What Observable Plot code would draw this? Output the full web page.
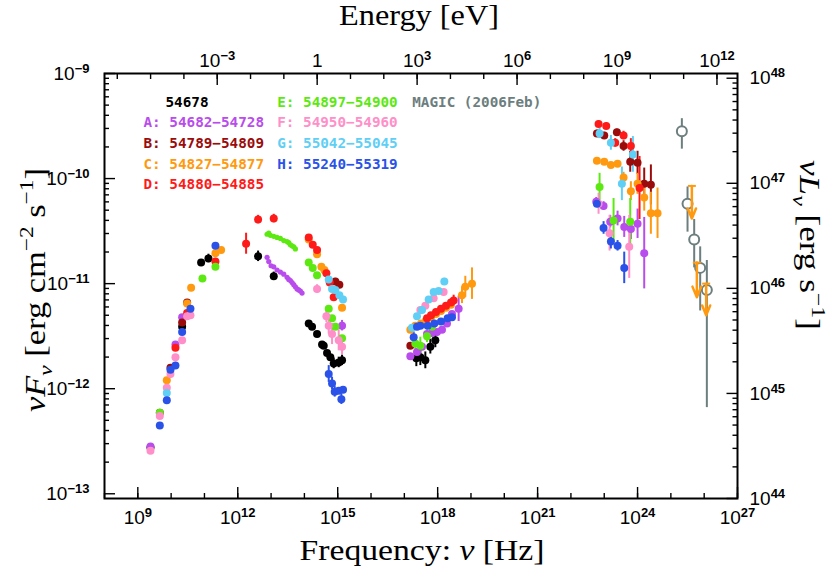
<!DOCTYPE html>
<html><head><meta charset="utf-8">
<script src="https://cdn.jsdelivr.net/npm/d3@7"></script>
<script src="https://cdn.jsdelivr.net/npm/@observablehq/plot@0.6"></script>
<style>body{margin:0;background:#fff}</style>
</head><body><div id="chart"></div>
<script>
// Each point: [log10 nu (Hz), log10 nuFnu (erg cm^-2 s^-1), error (dex, optional)]
const mjd54678 = [[9.38,-12.56],[10.33,-11.41],[10.90,-10.80],[11.12,-10.76,0.04],[12.61,-10.74,0.05],[13.08,-10.93,0.04],
  [14.13,-11.38],[14.23,-11.41],[14.38,-11.48],[14.53,-11.58],[14.58,-11.59],[14.68,-11.66],[14.78,-11.70],[14.88,-11.76,0.05],[15.03,-11.75,0.05],[15.13,-11.73,0.05],
  [17.36,-11.71,0.08],[17.48,-11.70,0.08],[17.63,-11.73,0.08],[17.78,-11.60,0.07],[17.93,-11.54,0.07]];
const periodA = [[9.38,-12.55],[10.13,-11.58],[10.33,-11.32],[15.13,-11.40,0.05],
  [17.18,-11.69],[17.38,-11.65],[17.53,-11.60],[17.68,-11.48],[17.83,-11.47],[17.98,-11.46],[18.13,-11.44],[18.28,-11.38],[18.43,-11.29],[18.63,-11.24,0.12],
  [22.76,-10.22,0.04],[22.98,-10.26,0.04],[23.18,-10.41,0.06],[23.40,-10.38,0.07],[23.60,-10.46,0.1],[23.80,-10.48,0.1],[24.00,-10.43,0.14],[24.20,-10.71,0.34]];
const periodA_IR = [[12.88,-10.75],[12.93,-10.79],[13.00,-10.83],[13.08,-10.84],[13.18,-10.87],[13.28,-10.89],[13.38,-10.91],[13.48,-10.94],[13.53,-10.96],[13.58,-10.97],[13.63,-10.99],[13.68,-11.01],[13.73,-11.03],[13.78,-11.05],[13.83,-11.06],[13.88,-11.07],[13.93,-11.09]];
const periodB = [[9.66,-12.23],[9.98,-11.80],[10.33,-11.37],[10.48,-11.18],[14.93,-10.98,0.03],[15.05,-11.01,0.03],[17.18,-11.59],
  [22.78,-9.57,0.03],[23.00,-9.59,0.03],[23.38,-9.56,0.03],[23.58,-9.69,0.05],[23.78,-9.84,0.1],[24.00,-9.85,0.11],[24.20,-10.05,0.15],[24.40,-10.06,0.19]];
const periodC = [[9.87,-11.92],[10.48,-11.19],[10.60,-11.04],[11.33,-10.71],[11.50,-10.68],
  [14.13,-10.58],[14.38,-10.72],[14.51,-10.84],[14.60,-10.87],[15.13,-11.23],
  [17.18,-11.44],[17.33,-11.40],[17.50,-11.38],[17.65,-11.35],[17.80,-11.32],[17.95,-11.29],[18.10,-11.26],[18.25,-11.23],[18.40,-11.20],[18.73,-11.11,0.08],[18.83,-11.03,0.1],[19.03,-11.00,0.15],
  [22.78,-9.83],[23.00,-9.84],[23.20,-9.87],[23.40,-9.86],[23.58,-9.99,0.05],[23.80,-10.12,0.09],[24.00,-10.05,0.1],[24.20,-10.18,0.13],[24.40,-10.33,0.2],[24.60,-10.33,0.24]];
// upper limits of period C: [log10 nu, log10 limit, log10 arrow tip]
const periodC_UL = [[25.63,-10.07,-10.38],[25.78,-10.80,-11.13],[26.06,-11.00,-11.30]];
const periodD = [[10.13,-11.61],[10.48,-11.28],[11.33,-10.79],[12.25,-10.62,0.1],[12.61,-10.39,0.04],[13.08,-10.38,0.04],
  [14.13,-10.56],[14.25,-10.63],[14.38,-10.68],[14.66,-10.90],[14.76,-10.99],[14.88,-11.13],
  [17.68,-11.33],[17.80,-11.30],[17.95,-11.27],[18.10,-11.24],[18.25,-11.21],[18.40,-11.18],[18.48,-11.16,0.05],
  [22.83,-9.48,0.03],[23.06,-9.50,0.03],[23.33,-9.66,0.04],[23.58,-9.59,0.04],[23.80,-9.69,0.07],[24.06,-10.09,0.3]];
const periodE = [[9.66,-12.23],[10.94,-10.95],[11.33,-10.84],
  [14.13,-10.80],[14.25,-10.85],[14.38,-10.92],[14.73,-11.24],[14.83,-11.33],[14.93,-11.41],[15.13,-11.52],
  [17.33,-11.57,0.08],[17.48,-11.59,0.08],[17.68,-11.50,0.06],[17.83,-11.41],
  [22.86,-10.08,0.13],[23.28,-10.40,0.21],[23.78,-10.41,0.22]];
const periodE_IR = [[12.88,-10.53],[12.93,-10.52],[12.98,-10.54],[13.08,-10.55],[13.18,-10.56],[13.28,-10.57],[13.38,-10.59],[13.48,-10.60],[13.53,-10.61],[13.58,-10.63],[13.63,-10.64],[13.68,-10.65],[13.73,-10.67]];
const periodF = [[9.38,-12.59],[9.66,-12.26],[9.87,-11.99],[9.98,-11.86],[10.13,-11.70],[10.33,-11.54],[10.48,-11.31],[10.58,-11.30],
  [14.38,-11.05,0.04],[14.66,-11.31,0.06],[14.73,-11.40,0.08],[14.83,-11.48,0.1],[15.03,-11.54,0.1],[15.13,-11.60,0.08],
  [17.48,-11.25],[17.63,-11.21],[17.88,-11.14],[18.18,-11.08],
  [22.83,-10.24,0.1],[23.16,-10.52,0.17],[23.75,-10.65,0.3]];
const periodG = [[9.87,-12.04],
  [14.73,-10.96],[14.83,-11.05],[14.93,-11.06],[15.05,-11.11],[15.16,-11.15],
  [17.23,-11.42],[17.38,-11.31],[17.53,-11.25],[17.73,-11.15],[17.88,-11.08],[18.03,-11.07],[18.20,-10.98,0.03],
  [22.86,-9.57,0.05],[23.20,-9.66,0.07],[23.86,-9.77,0.17],[23.53,-10.05,0.16]];
const periodH = [[9.66,-12.35],[9.87,-12.11],[9.98,-11.82],[10.13,-11.78],[10.33,-11.46],[10.58,-11.24],[11.33,-10.64],
  [14.73,-11.86,0.08],[14.83,-11.95,0.06],[14.91,-12.03,0.05],[15.03,-12.02],[15.16,-12.01],[15.11,-12.10,0.05],
  [17.28,-11.51,0.05],[17.38,-11.41],[17.48,-11.40],[17.70,-11.40],[17.90,-11.38],[18.10,-11.36],[18.30,-11.33],[18.43,-11.32],
  [22.78,-10.24,0.03],[22.98,-10.47,0.06],[23.20,-10.60,0.07],[23.40,-10.64,0.05],[23.60,-10.85,0.15]];
// MAGIC (2006 Feb): [log10 nu, log10 nuFnu, log10 upper, log10 lower]
const magic2006 = [[25.33,-9.55,-9.43,-9.72],[25.50,-10.24,-10.08,-10.51],[25.70,-10.58,-10.39,-10.85],[25.88,-10.85,-10.65,-11.26],[26.08,-11.06,-10.78,-12.18]];

const seriesNames = ["54678","A","B","C","D","E","F","G","H"];
const seriesColors = ["#000000","#b94cec","#9a0c0c","#ff9a10","#ff1a1a","#5ce912","#ff8fc8","#5fcff5","#2a52e8"];
const seriesData = [mjd54678, periodA, periodB, periodC, periodD, periodE, periodF, periodG, periodH];
const magicColor = "#6c7e7e";

const legendLabels = ["54678","A: 54682−54728","B: 54789−54809","C: 54827−54877","D: 54880−54885",
  "E: 54897−54900","F: 54950−54960","G: 55042−55045","H: 55240−55319","MAGIC (2006Feb)"];
const legendColors = [...seriesColors, magicColor];

const xTickExp = d3.range(8, 28);             // log10 nu decades
const xLabelExp = [9,12,15,18,21,24,27];
const eTickExp = d3.range(-6, 13);           // log10 E(eV) decades
const eLabelExp = [-3,0,3,6,9,12];
const yTickExp = [-13,-12,-11,-10,-9];
const lTickExp = [44,45,46,47,48];           // log10 nuL decades
const H_EV = 4.135667696e-15;                // eV s
const LOG_4PI_D2 = 57.045;                   // log10(4 pi d_L^2) in cm^2

// ---- build tables
const pts = seriesData.flatMap((arr, i) => arr.map(([lx, ly, e]) => ({
  s: seriesNames[i], nu: 10 ** lx, f: 10 ** ly,
  lo: e ? 10 ** (ly - e) : null, hi: e ? 10 ** (ly + e) : null})));
const irPts = [[periodA_IR, "A"], [periodE_IR, "E"]].flatMap(([arr, s]) => arr.map(([lx, ly]) => ({s, nu: 10 ** lx, f: 10 ** ly})));
const magic = magic2006.map(([lx, ly, hi, lo]) => ({nu: 10 ** lx, f: 10 ** ly, hi: 10 ** hi, lo: 10 ** lo}));
const ul = periodC_UL.map(([lx, top, tip]) => ({nu: 10 ** lx, top: 10 ** top, tip: 10 ** tip}));

const supMap = {"-":"⁻","0":"⁰","1":"¹","2":"²","3":"³","4":"⁴","5":"⁵","6":"⁶","7":"⁷","8":"⁸","9":"⁹"};
const supInv = Object.fromEntries(Object.entries(supMap).map(([k, v]) => [v, k]));
const pow10 = k => k === 0 ? "1" : "10" + String(k).split("").map(c => supMap[c]).join("");
const minorsOf = (lo, hi) => d3.range(lo, hi).flatMap(k => d3.range(2, 10).map(m => m * 10 ** k));

const yLo = 10 ** -13.045;
const xMinor = xTickExp.map(k => 10 ** k);
const xMajor = xLabelExp.map(k => 10 ** k);
const eMinor = eTickExp.map(k => 10 ** k / H_EV);
const eMajor = eLabelExp.map(k => 10 ** k / H_EV);
const yMajor = yTickExp.map(k => 10 ** k);
const yMinor = minorsOf(-14, -9).filter(v => v > yLo && v < 1e-9);
const lMajor = lTickExp.map(k => 10 ** (k - LOG_4PI_D2));
const lMinor = minorsOf(44, 48).map(v => v / 10 ** LOG_4PI_D2).filter(v => v > yLo && v < 1e-9);

const hbar = {draw(ctx, size) { const r = Math.sqrt(size / Math.PI); ctx.moveTo(-r, 0); ctx.lineTo(r, 0); }};
const leftTick = len => ({draw(ctx) { ctx.moveTo(0, 0); ctx.lineTo(-len, 0); }});
const tickStyle = {strokeWidth: 1.4, label: null};
const labelFont = {fontSize: 19, fontFamily: "'Liberation Sans', Arial, sans-serif", label: null};

const legendMarks = legendLabels.map((t, i) => {
  const col = i === 0 ? 0 : i < 5 ? 1 : i < 9 ? 2 : 3;
  const row = i === 0 ? 0 : i < 5 ? i : i < 9 ? i - 5 : 0;
  const dx = [61, 39, 172.7, 307.7][col];
  const dy = 28.7 + row * 20.6;
  return Plot.text([t], {frameAnchor: "top-left", dx, dy, text: d => d, textAnchor: "start", lineAnchor: "middle",
    fill: legendColors[i], fontFamily: "'DejaVu Sans Mono', monospace", fontWeight: "bold", fontSize: 14.3});
});

const fig = Plot.plot({
  width: 830, height: 568,
  marginLeft: 104, marginRight: 93, marginTop: 73, marginBottom: 70,
  x: {type: "log", domain: [1e8, 1e27]},
  y: {type: "log", domain: [yLo, 1e-9]},
  color: {domain: seriesNames, range: seriesColors},
  style: {fontFamily: "'Liberation Sans', Arial, sans-serif", fontSize: "19px", background: "#fff", color: "#000"},
  marks: [
    // error bars and points
    Plot.ruleX(pts.filter(d => d.lo), {x: "nu", y1: "lo", y2: "hi", stroke: "s", strokeWidth: 2}),
    Plot.dot(pts, {x: "nu", y: "f", r: 4, fill: "s"}),
    Plot.dot(irPts, {x: "nu", y: "f", r: 2.6, fill: "s"}),
    // MAGIC
    Plot.ruleX(magic, {x: "nu", y1: "lo", y2: "hi", stroke: magicColor, strokeWidth: 2}),
    Plot.dot(magic, {x: "nu", y: "f", r: 5, fill: "#fff", stroke: magicColor, strokeWidth: 2}),
    // upper limits (period C)
    Plot.arrow(ul, {x1: "nu", y1: "top", x2: "nu", y2: "tip", stroke: seriesColors[3], strokeWidth: 2.5, headLength: 12, headAngle: 45}),
    Plot.dot(ul, {x: "nu", y: "top", r: 4, symbol: hbar, stroke: seriesColors[3], strokeWidth: 2}),
    // axes: bottom (frequency)
    Plot.axisX(xMinor, {anchor: "bottom", tickSize: -5, tickFormat: () => "", ...tickStyle}),
    Plot.axisX(xMajor, {anchor: "bottom", tickSize: -11, tickFormat: () => "", ...tickStyle}),
    Plot.axisX(xMajor, {anchor: "bottom", tickSize: 0, tickPadding: 12, tickFormat: d => pow10(Math.round(Math.log10(d))), ...labelFont}),
    // top (energy)
    Plot.axisX(eMinor, {anchor: "top", tickSize: -5, tickFormat: () => "", ...tickStyle}),
    Plot.axisX(eMajor, {anchor: "top", tickSize: -11, tickFormat: () => "", ...tickStyle}),
    Plot.axisX(eMajor, {anchor: "top", tickSize: 0, tickPadding: 7, tickFormat: d => pow10(Math.round(Math.log10(d * H_EV))), ...labelFont}),
    // left (flux)
    Plot.axisY(yMinor, {anchor: "left", tickSize: -5, tickFormat: () => "", ...tickStyle}),
    Plot.axisY(yMajor, {anchor: "left", tickSize: -11, tickFormat: () => "", ...tickStyle}),
    Plot.axisY(yMajor, {anchor: "left", tickSize: 0, tickPadding: 15, tickFormat: d => pow10(Math.round(Math.log10(d))), ...labelFont}),
    // right (luminosity) — inward ticks and labels anchored to the right edge of the frame
    Plot.dot(lMinor, {y: d => d, frameAnchor: "right", symbol: leftTick(5), r: 3, stroke: "#000", strokeWidth: 1.4}),
    Plot.dot(lMajor, {y: d => d, frameAnchor: "right", symbol: leftTick(11), r: 3, stroke: "#000", strokeWidth: 1.4}),
    Plot.text(lMajor, {y: d => d, frameAnchor: "right", dx: 12, textAnchor: "start", lineAnchor: "middle",
      text: d => pow10(Math.round(Math.log10(d) + LOG_4PI_D2)), fontSize: 19, fill: "#000"}),
    Plot.frame({stroke: "#000", strokeWidth: 2}),
    ...legendMarks
  ]
});

// tick labels: bold raised exponents
d3.select(fig).selectAll("text").each(function () {
  if (this.children.length) return;
  const m = (this.textContent || "").match(/^10([⁻⁰¹²³⁴⁵⁶⁷⁸⁹]+)$/);
  if (!m) return;
  const exp = [...m[1]].map(c => supInv[c]).join("").replace("-", "−");
  const sel = d3.select(this).text(null);
  sel.append("tspan").text("10");
  sel.append("tspan").attr("dy", -7).attr("font-size", 13).attr("font-weight", "bold").text(exp);
});

// axis titles with sub/superscripts
function richText(svg, x, y, rot, parts, size, width) {
  const t = d3.select(svg).append("text")
    .attr("transform", `translate(${x},${y}) rotate(${rot})`)
    .attr("text-anchor", "middle")
    .attr("font-family", "'Liberation Serif', 'DejaVu Serif', serif")
    .attr("font-size", size).attr("fill", "#000");
  if (width) t.attr("textLength", width).attr("lengthAdjust", "spacingAndGlyphs");
  let shift = 0;
  for (const p of parts) {
    const target = p.sub ? 0.25 * size : p.sup ? -0.42 * size : 0;
    const ts = t.append("tspan").text(p.t);
    if (p.it) ts.attr("font-style", "italic");
    if (p.sub || p.sup) ts.attr("font-size", 0.68 * size);
    if (target !== shift) ts.attr("dy", target - shift);
    shift = target;
  }
}
richText(fig, 419, 25, 0, [{t: "Energy [eV]"}], 29, 160);
richText(fig, 422, 560, 0, [{t: "Frequency: "}, {t: "ν", it: true}, {t: " [Hz]"}], 29, 245);
richText(fig, 45, 290, -90, [{t: "νF", it: true}, {t: "ν", it: true, sub: true}, {t: " [erg cm"}, {t: "−2", sup: true}, {t: " s"}, {t: "−1", sup: true}, {t: "]"}], 29, 244);
richText(fig, 800, 245, 90, [{t: "νL", it: true}, {t: "ν", it: true, sub: true}, {t: " [erg s"}, {t: "−1", sup: true}, {t: "]"}], 29, 170);

document.getElementById("chart").appendChild(fig);
</script>
</body></html>
